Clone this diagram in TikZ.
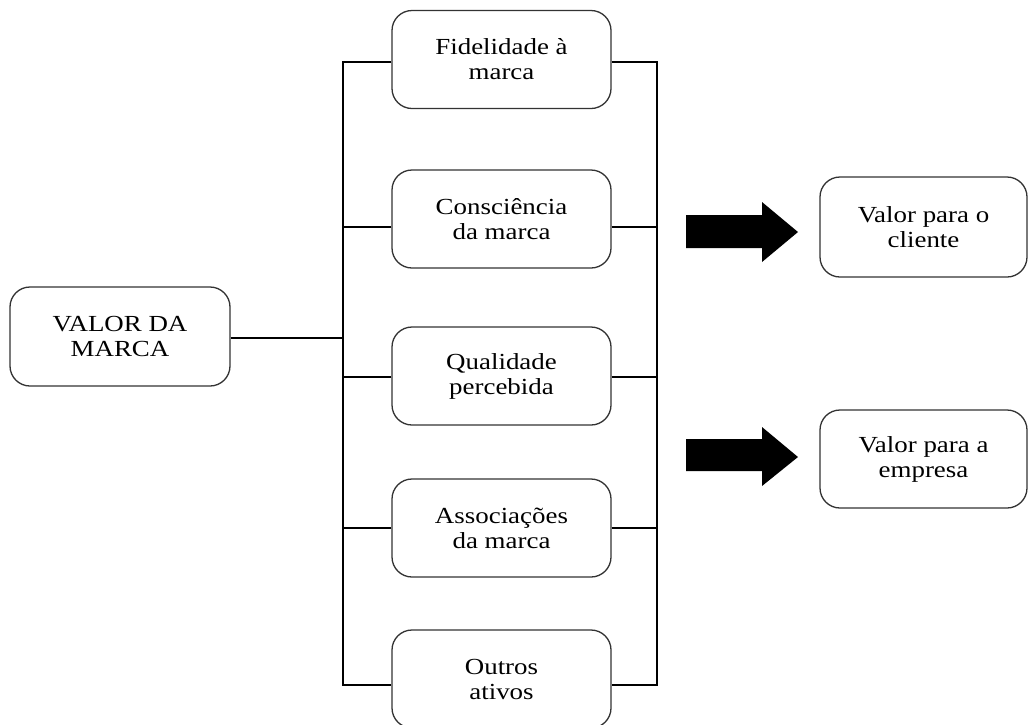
\documentclass[tikz,border=0pt]{standalone}
\usepackage{fontspec}
\setmainfont{Liberation Serif}
\newfontfamily\boxfont[FakeStretch=1.17]{Liberation Serif}
\begin{document}
\begin{tikzpicture}[x=1pt,y=-1pt,
  rbox/.style={draw=black!80, line width=1.3pt, rounded corners=20pt,
    minimum width=219pt, minimum height=98pt, inner sep=0pt,
    align=center, font=\boxfont\fontsize{23}{25}\selectfont},
  conn/.style={draw=black, line width=2.6pt},
  blockarrow/.style={fill=black}]
\fill[white] (0,0) rectangle (1029,724);
\useasboundingbox (0,0) rectangle (1029,724);

\node[rbox, minimum width=220pt, minimum height=99pt] (valor) at (120,336.5) {VALOR DA\\MARCA};
\node[rbox] (b1) at (501.5,59.5) {Fidelidade à\\marca};
\node[rbox] (b2) at (501.5,219) {Consciência\\da marca};
\node[rbox] (b3) at (501.5,376) {Qualidade\\percebida};
\node[rbox] (b4) at (501.5,528) {Associações\\da marca};
\node[rbox] (b5) at (501.5,679) {Outros\\ativos};
\node[rbox, minimum width=207pt, minimum height=100pt] (c1) at (923.5,227) {Valor para o\\cliente};
\node[rbox, minimum width=207pt, minimum height=98pt] (c2) at (923.5,459) {Valor para a\\empresa};

\coordinate (Ltop) at (343,62);
\coordinate (Lbot) at (343,685);
\coordinate (Rtop) at (657,62);
\coordinate (Rbot) at (657,685);

% left bracket
\draw[conn, line join=miter] (b1.west |- Ltop) -- (Ltop) -- (Lbot) -- (b5.west |- Lbot);
% right bracket
\draw[conn, line join=miter] (b1.east |- Rtop) -- (Rtop) -- (Rbot) -- (b5.east |- Rbot);

% main connector
\draw[conn] ([yshift=-1.5pt]valor.east) -- ([yshift=-1.5pt]valor.east -| Ltop);

% middle connectors
\draw[conn] ([yshift=-8pt]b2.west) -- ([yshift=-8pt]b2.west -| Ltop);
\draw[conn] ([yshift=-8pt]b2.east) -- ([yshift=-8pt]b2.east -| Rtop);
\draw[conn] ([yshift=-1pt]b3.west) -- ([yshift=-1pt]b3.west -| Ltop);
\draw[conn] ([yshift=-1pt]b3.east) -- ([yshift=-1pt]b3.east -| Rtop);
\draw[conn] (b4.west) -- (b4.west -| Ltop);
\draw[conn] (b4.east) -- (b4.east -| Rtop);

% block arrows
\fill[blockarrow] (686,215) -- (762,215) -- (762,202) -- (798,232) -- (762,262) -- (762,248) -- (686,248) -- cycle;
\fill[blockarrow] (686,439) -- (762,439) -- (762,427) -- (798,457) -- (762,486) -- (762,471) -- (686,471) -- cycle;
\end{tikzpicture}
\end{document}
